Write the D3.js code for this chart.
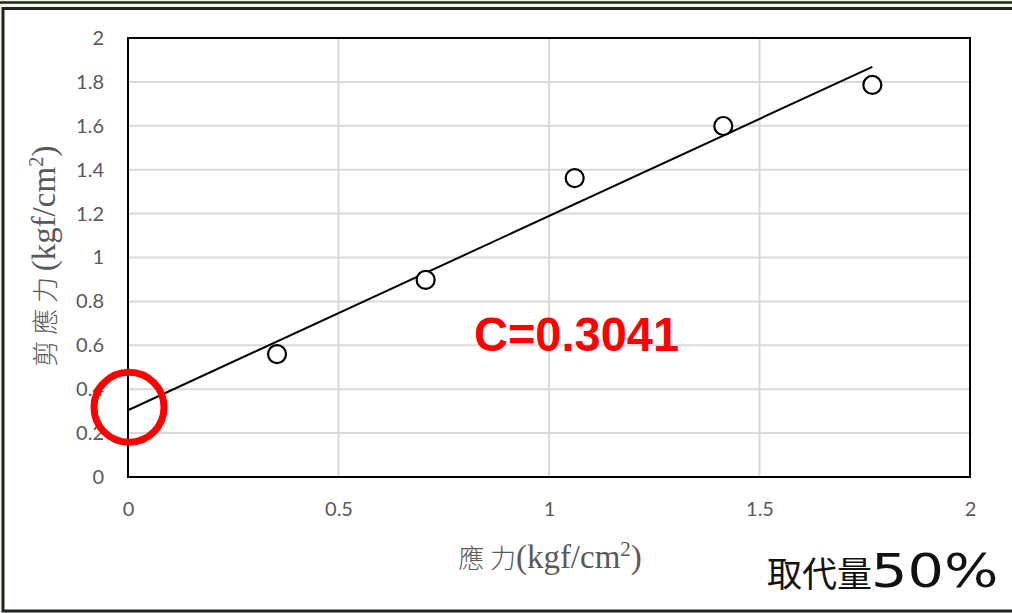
<!DOCTYPE html>
<html>
<head>
<meta charset="utf-8">
<script src="https://cdn.jsdelivr.net/npm/d3@7"></script>
<style>
  html, body { margin: 0; padding: 0; background: #ffffff; }
  svg { display: block; }
</style>
</head>
<body>
<svg id="chart" width="1012" height="613"></svg>
<script>
// Normal stress (x) and shear stress (y), kgf/cm²
const normalStress = [0.354, 0.707, 1.061, 1.414, 1.768];
const shearStress  = [0.560, 0.898, 1.362, 1.599, 1.786];

// Linear fit: shear = C + slope * normal
const cohesion = 0.3041;
const fitSlope = 0.885;

const xTicks = [0, 0.5, 1, 1.5, 2];
const yTicks = [0, 0.2, 0.4, 0.6, 0.8, 1, 1.2, 1.4, 1.6, 1.8, 2];
const xTickLabels = ["0", "0.5", "1", "1.5", "2"];
const yTickLabels = ["0", "0.2", "0.4", "0.6", "0.8", "1", "1.2", "1.4", "1.6", "1.8", "2"];

const cLabel = "C=" + cohesion;
const sideNote = ["取代量", "50%"];

const svg = d3.select("#chart");
const W = 1012, H = 613;
const plot = { left: 128, right: 970, top: 38, bottom: 477 };

// Page frame
svg.append("rect").attr("x", 0).attr("y", 0).attr("width", W).attr("height", H).attr("fill", "#eef8e6");
svg.append("line").attr("x1", 0).attr("x2", W).attr("y1", 2.5).attr("y2", 2.5)
  .attr("stroke", "#222").attr("stroke-width", 2.5);
svg.append("rect").attr("x", 3).attr("y", 8.5).attr("width", W + 10).attr("height", 602.5)
  .attr("fill", "#ffffff").attr("stroke", "#222").attr("stroke-width", 3);

const x = d3.scaleLinear().domain([0, 2]).range([plot.left, plot.right]);
const y = d3.scaleLinear().domain([0, 2]).range([plot.bottom, plot.top]);

// Gridlines
const grid = svg.append("g");
grid.selectAll("line.h").data(yTicks.filter(v => v > 0 && v < 2)).enter().append("line")
  .attr("x1", plot.left).attr("x2", plot.right)
  .attr("y1", d => y(d)).attr("y2", d => y(d))
  .attr("stroke", "#d9d9d9").attr("stroke-width", 2);
grid.selectAll("line.v").data(xTicks.filter(v => v > 0 && v < 2)).enter().append("line")
  .attr("y1", plot.top).attr("y2", plot.bottom)
  .attr("x1", d => x(d)).attr("x2", d => x(d))
  .attr("stroke", "#d9d9d9").attr("stroke-width", 2);

// Plot box
svg.append("rect").attr("x", plot.left).attr("y", plot.top)
  .attr("width", plot.right - plot.left).attr("height", plot.bottom - plot.top)
  .attr("fill", "none").attr("stroke", "#000").attr("stroke-width", 2);

// Tick labels via axes (lines hidden)
const tickFont = "Lato, 'Noto Sans', sans-serif";
const yAxis = svg.append("g").attr("transform", `translate(${plot.left},0)`)
  .call(d3.axisLeft(y).tickValues(yTicks).tickFormat((d, i) => yTickLabels[i]).tickSize(0).tickPadding(24));
const xAxis = svg.append("g").attr("transform", `translate(0,${plot.bottom})`)
  .call(d3.axisBottom(x).tickValues(xTicks).tickFormat((d, i) => xTickLabels[i]).tickSize(0).tickPadding(25));
[yAxis, xAxis].forEach(a => {
  a.select(".domain").remove();
  a.selectAll("text").attr("fill", "#595959").style("font-family", tickFont).style("font-size", "20px");
});

// Fit line from x = 0 to the last sample
const xMax = d3.max(normalStress);
svg.append("line")
  .attr("x1", x(0)).attr("y1", y(cohesion))
  .attr("x2", x(xMax)).attr("y2", y(cohesion + fitSlope * xMax))
  .attr("stroke", "#000").attr("stroke-width", 2);

// Sample markers
svg.selectAll("circle.pt").data(normalStress.map((v, i) => [v, shearStress[i]])).enter()
  .append("circle").attr("class", "pt")
  .attr("cx", d => x(d[0])).attr("cy", d => y(d[1])).attr("r", 9)
  .attr("fill", "#fff").attr("stroke", "#000").attr("stroke-width", 2.2);

// Axis titles
const titleSerif = "'Liberation Serif', 'Times New Roman', serif";
const titleCJK = "'Noto Sans CJK TC', sans-serif";
function axisTitle(g, cjk) {
  const t = g.append("text").attr("text-anchor", "middle").attr("fill", "#595959");
  t.append("tspan").style("font-family", titleCJK).style("font-size", "26px").style("font-weight", 300).text(cjk);
  t.append("tspan").style("font-family", titleSerif).style("font-size", "33px").text("(kgf/cm");
  t.append("tspan").style("font-family", titleSerif).style("font-size", "21px").attr("dy", -12).text("2");
  t.append("tspan").style("font-family", titleSerif).style("font-size", "33px").attr("dy", 12).text(")");
  return t;
}
axisTitle(svg.append("g").attr("transform", "translate(550,568)"), "應 力");
axisTitle(svg.append("g").attr("transform", "translate(55,256) rotate(-90)"), "剪 應 力 ");

// Cohesion callout
svg.append("circle").attr("cx", x(0) + 1).attr("cy", y(cohesion) - 3).attr("r", 35)
  .attr("fill", "none").attr("stroke", "#ff0000").attr("stroke-width", 7);
svg.append("text").attr("x", 474).attr("y", 351)
  .attr("textLength", 205).attr("lengthAdjust", "spacingAndGlyphs")
  .style("font-family", "'Liberation Sans', Arial, sans-serif").style("font-weight", "bold")
  .style("font-size", "49px").attr("fill", "#ff0000").text(cLabel);

// Replacement ratio note
svg.append("text").attr("x", 767).attr("y", 587)
  .style("font-family", "'Noto Sans CJK TC', sans-serif").style("font-size", "35px")
  .attr("fill", "#111").text(sideNote[0]);
svg.append("text").attr("transform", "translate(871,587) scale(1.22,1)")
  .style("font-family", "'DejaVu Sans', sans-serif").style("font-size", "47px")
  .attr("fill", "#111").text(sideNote[1]);
</script>
</body>
</html>
